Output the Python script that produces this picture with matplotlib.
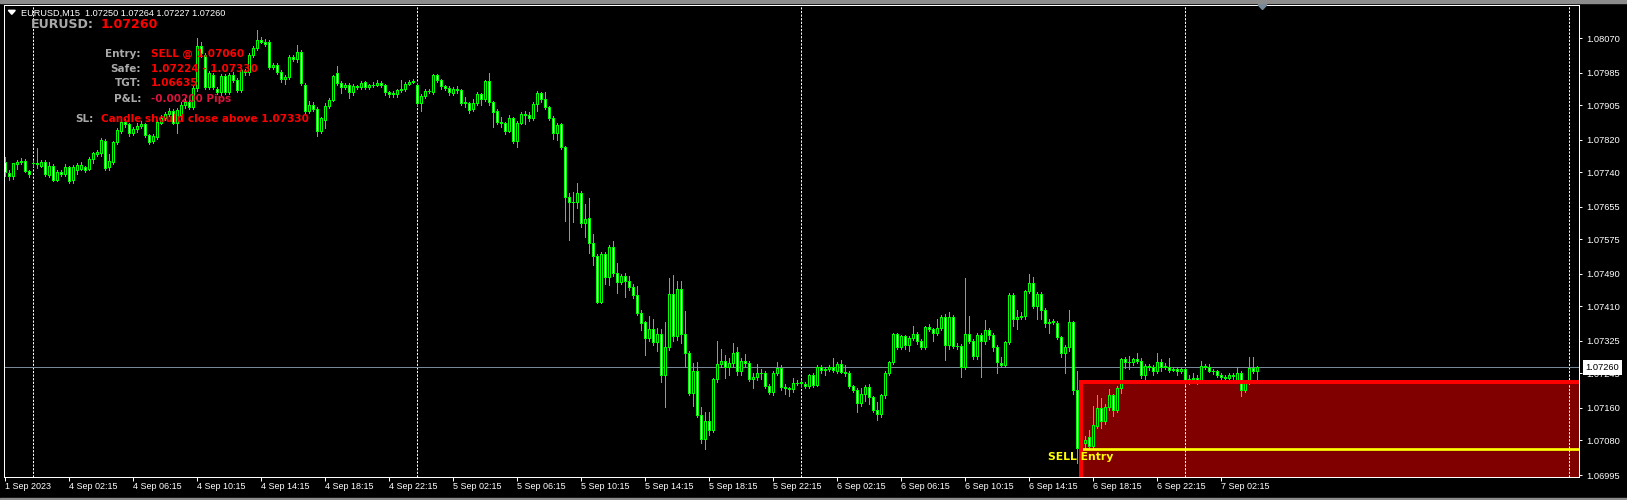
import numpy as np
import pandas as pd
import matplotlib
matplotlib.use("Agg")
import matplotlib.pyplot as plt
from matplotlib.patches import Rectangle, Polygon
from matplotlib.collections import PatchCollection, LineCollection
import matplotlib.transforms as mtransforms

plt.rcParams['font.family'] = ['Liberation Sans', 'DejaVu Sans']

W, H = 1627, 500

# ---------------- data ----------------
symbol = "EURUSD"
timeframe = "M15"
last_ohlc = [1.07250, 1.07264, 1.07227, 1.07260]
current_price = 1.07260
entry_price = 1.07060
safe_low = 1.07224
safe_high = 1.07330
target_price = 1.06635
pnl_text = "-0.00200 Pips"
sl_level = 1.07330
box_start = "2023-09-06 17:30"

times = (list(pd.date_range("2023-09-01 22:15", periods=7, freq="15min")) +
         list(pd.date_range("2023-09-04 00:00", periods=307, freq="15min")))

opens = [
    1.07765, 1.07739, 1.07732, 1.07760, 1.07765, 1.07768, 1.07744,
    1.07762, 1.07764, 1.07755, 1.07766, 1.07734, 1.07756, 1.07721, 1.07740, 1.07735, 1.07752, 1.07720, 1.07745, 1.07748, 1.07752, 1.07748, 1.07772,
    1.07785, 1.07787, 1.07818, 1.07752, 1.07765, 1.07814, 1.07842, 1.07865, 1.07858, 1.07837, 1.07846, 1.07855, 1.07858, 1.07832, 1.07818, 1.07826,
    1.07862, 1.07873, 1.07883, 1.07890, 1.07862, 1.07880, 1.07905, 1.07914, 1.07900, 1.07947, 1.08050, 1.08030, 1.07951, 1.07980, 1.07945, 1.07938,
    1.07978, 1.07938, 1.07980, 1.07968, 1.07943, 1.07990, 1.07986, 1.08030, 1.08047, 1.08066, 1.08060, 1.08060, 1.08000, 1.08005, 1.07988, 1.07970,
    1.07974, 1.08025, 1.08018, 1.08037, 1.07955, 1.07890, 1.07906, 1.07896, 1.07843, 1.07870, 1.07904, 1.07918, 1.07985, 1.07959, 1.07950, 1.07955,
    1.07939, 1.07952, 1.07950, 1.07962, 1.07949, 1.07954, 1.07956, 1.07960, 1.07955, 1.07937, 1.07933, 1.07934, 1.07942, 1.07944, 1.07958, 1.07963,
    1.07955, 1.07910, 1.07928, 1.07940, 1.07937, 1.07980, 1.07967, 1.07953, 1.07948, 1.07936, 1.07945, 1.07943, 1.07910, 1.07910, 1.07895, 1.07910,
    1.07933, 1.07920, 1.07965, 1.07912, 1.07890, 1.07865, 1.07862, 1.07843, 1.07873, 1.07818, 1.07862, 1.07884, 1.07882, 1.07873, 1.07908, 1.07935,
    1.07921, 1.07900, 1.07875, 1.07838, 1.07858, 1.07803, 1.07679, 1.07668, 1.07666, 1.07690, 1.07616, 1.07627, 1.07565, 1.07534, 1.07422, 1.07539,
    1.07483, 1.07556, 1.07492, 1.07471, 1.07485, 1.07473, 1.07459, 1.07438, 1.07395, 1.07371, 1.07332, 1.07354, 1.07323, 1.07342, 1.07241, 1.07310,
    1.07441, 1.07338, 1.07452, 1.07342, 1.07295, 1.07198, 1.07250, 1.07143, 1.07083, 1.07128, 1.07106, 1.07231, 1.07268, 1.07276, 1.07262, 1.07270,
    1.07297, 1.07250, 1.07276, 1.07270, 1.07231, 1.07236, 1.07246, 1.07247, 1.07215, 1.07199, 1.07246, 1.07258, 1.07211, 1.07208, 1.07206, 1.07221,
    1.07222, 1.07220, 1.07215, 1.07240, 1.07217, 1.07262, 1.07253, 1.07255, 1.07262, 1.07252, 1.07268, 1.07248, 1.07246, 1.07213, 1.07205, 1.07172,
    1.07195, 1.07211, 1.07187, 1.07155, 1.07145, 1.07191, 1.07246, 1.07273, 1.07342, 1.07311, 1.07337, 1.07314, 1.07332, 1.07342, 1.07326, 1.07311,
    1.07359, 1.07355, 1.07345, 1.07357, 1.07383, 1.07314, 1.07383, 1.07313, 1.07312, 1.07262, 1.07342, 1.07325, 1.07288, 1.07340, 1.07324, 1.07352,
    1.07340, 1.07309, 1.07270, 1.07266, 1.07322, 1.07438, 1.07378, 1.07383, 1.07386, 1.07447, 1.07467, 1.07410, 1.07441, 1.07400, 1.07369, 1.07371,
    1.07369, 1.07334, 1.07295, 1.07310, 1.07371, 1.07205, 1.07061, 1.07075, 1.07088, 1.07066, 1.07115, 1.07160, 1.07129, 1.07162, 1.07191, 1.07155,
    1.07209, 1.07280, 1.07272, 1.07272, 1.07280, 1.07276, 1.07240, 1.07264, 1.07262, 1.07251, 1.07273, 1.07262, 1.07262, 1.07254, 1.07257, 1.07251,
    1.07256, 1.07229, 1.07232, 1.07235, 1.07228, 1.07264, 1.07262, 1.07252, 1.07250, 1.07241, 1.07237, 1.07234, 1.07240, 1.07229, 1.07246, 1.07205,
    1.07225, 1.07258, 1.07250,
]

highs = [
    1.07779, 1.07746, 1.07764, 1.07770, 1.07776, 1.07772, 1.07747,
    1.07767, 1.07799, 1.07770, 1.07770, 1.07765, 1.07760, 1.07745, 1.07745, 1.07760, 1.07756, 1.07758, 1.07764, 1.07765, 1.07755, 1.07778, 1.07790,
    1.07795, 1.07825, 1.07822, 1.07785, 1.07816, 1.07848, 1.07870, 1.07872, 1.07862, 1.07852, 1.07862, 1.07866, 1.07862, 1.07835, 1.07834, 1.07868,
    1.07880, 1.07888, 1.07898, 1.07896, 1.07898, 1.07912, 1.07922, 1.07920, 1.07952, 1.08070, 1.08062, 1.08035, 1.07990, 1.07985, 1.07950, 1.07982,
    1.07982, 1.07984, 1.07988, 1.07972, 1.07996, 1.07995, 1.08035, 1.08050, 1.08090, 1.08072, 1.08068, 1.08065, 1.08010, 1.08010, 1.07992, 1.07980,
    1.08030, 1.08030, 1.08053, 1.08040, 1.07960, 1.07915, 1.07912, 1.07900, 1.07876, 1.07910, 1.07922, 1.07980, 1.08002, 1.07964, 1.07960, 1.07960,
    1.07957, 1.07955, 1.07964, 1.07966, 1.07958, 1.07962, 1.07968, 1.07964, 1.07958, 1.07940, 1.07940, 1.07946, 1.07968, 1.07962, 1.07968, 1.07970,
    1.07960, 1.07932, 1.07945, 1.07944, 1.07982, 1.07982, 1.07970, 1.07956, 1.07952, 1.07950, 1.07952, 1.07946, 1.07925, 1.07913, 1.07920, 1.07938,
    1.07936, 1.07968, 1.07984, 1.07915, 1.07895, 1.07876, 1.07865, 1.07880, 1.07876, 1.07866, 1.07888, 1.07892, 1.07888, 1.07912, 1.07940, 1.07938,
    1.07938, 1.07903, 1.07878, 1.07862, 1.07862, 1.07806, 1.07688, 1.07692, 1.07715, 1.07693, 1.07662, 1.07676, 1.07588, 1.07540, 1.07544, 1.07544,
    1.07560, 1.07571, 1.07516, 1.07490, 1.07492, 1.07486, 1.07464, 1.07460, 1.07402, 1.07375, 1.07387, 1.07379, 1.07356, 1.07354, 1.07372, 1.07480,
    1.07487, 1.07472, 1.07472, 1.07398, 1.07300, 1.07270, 1.07273, 1.07163, 1.07150, 1.07150, 1.07235, 1.07325, 1.07305, 1.07290, 1.07284, 1.07320,
    1.07311, 1.07283, 1.07292, 1.07276, 1.07245, 1.07268, 1.07255, 1.07250, 1.07220, 1.07252, 1.07272, 1.07265, 1.07220, 1.07212, 1.07233, 1.07228,
    1.07230, 1.07225, 1.07243, 1.07245, 1.07265, 1.07266, 1.07260, 1.07266, 1.07283, 1.07272, 1.07278, 1.07265, 1.07252, 1.07217, 1.07210, 1.07210,
    1.07216, 1.07218, 1.07190, 1.07175, 1.07195, 1.07250, 1.07276, 1.07344, 1.07344, 1.07340, 1.07340, 1.07336, 1.07362, 1.07346, 1.07330, 1.07362,
    1.07367, 1.07358, 1.07380, 1.07388, 1.07392, 1.07397, 1.07388, 1.07320, 1.07318, 1.07479, 1.07387, 1.07330, 1.07345, 1.07345, 1.07376, 1.07356,
    1.07344, 1.07314, 1.07285, 1.07326, 1.07442, 1.07442, 1.07400, 1.07396, 1.07450, 1.07490, 1.07482, 1.07446, 1.07445, 1.07405, 1.07380, 1.07380,
    1.07374, 1.07338, 1.07316, 1.07401, 1.07375, 1.07250, 1.07085, 1.07090, 1.07106, 1.07164, 1.07192, 1.07185, 1.07170, 1.07207, 1.07195, 1.07213,
    1.07284, 1.07285, 1.07288, 1.07283, 1.07295, 1.07282, 1.07268, 1.07268, 1.07266, 1.07295, 1.07280, 1.07270, 1.07282, 1.07262, 1.07262, 1.07262,
    1.07260, 1.07240, 1.07245, 1.07240, 1.07276, 1.07268, 1.07268, 1.07256, 1.07254, 1.07246, 1.07240, 1.07245, 1.07246, 1.07262, 1.07250, 1.07230,
    1.07285, 1.07285, 1.07264,
]

lows = [
    1.07730, 1.07721, 1.07723, 1.07748, 1.07760, 1.07740, 1.07728,
    1.07755, 1.07750, 1.07752, 1.07730, 1.07728, 1.07718, 1.07718, 1.07732, 1.07730, 1.07715, 1.07713, 1.07736, 1.07745, 1.07740, 1.07745, 1.07762,
    1.07780, 1.07780, 1.07745, 1.07745, 1.07760, 1.07810, 1.07838, 1.07852, 1.07830, 1.07832, 1.07840, 1.07850, 1.07828, 1.07810, 1.07812, 1.07822,
    1.07858, 1.07868, 1.07878, 1.07858, 1.07836, 1.07870, 1.07898, 1.07895, 1.07895, 1.07940, 1.08025, 1.07945, 1.07945, 1.07945, 1.07932, 1.07930,
    1.07932, 1.07932, 1.07962, 1.07938, 1.07938, 1.07980, 1.07980, 1.08025, 1.08042, 1.08058, 1.08050, 1.07995, 1.07995, 1.07982, 1.07962, 1.07958,
    1.07970, 1.08015, 1.08012, 1.07955, 1.07885, 1.07885, 1.07890, 1.07830, 1.07836, 1.07850, 1.07898, 1.07915, 1.07955, 1.07936, 1.07945, 1.07922,
    1.07930, 1.07946, 1.07945, 1.07945, 1.07944, 1.07950, 1.07952, 1.07950, 1.07930, 1.07926, 1.07925, 1.07926, 1.07938, 1.07940, 1.07954, 1.07960,
    1.07905, 1.07892, 1.07922, 1.07936, 1.07932, 1.07962, 1.07945, 1.07942, 1.07930, 1.07930, 1.07935, 1.07906, 1.07900, 1.07885, 1.07890, 1.07905,
    1.07905, 1.07915, 1.07905, 1.07852, 1.07860, 1.07852, 1.07835, 1.07840, 1.07812, 1.07803, 1.07858, 1.07860, 1.07866, 1.07868, 1.07892, 1.07912,
    1.07895, 1.07868, 1.07822, 1.07820, 1.07798, 1.07621, 1.07574, 1.07619, 1.07652, 1.07606, 1.07582, 1.07541, 1.07512, 1.07418, 1.07418, 1.07465,
    1.07463, 1.07484, 1.07442, 1.07465, 1.07434, 1.07450, 1.07430, 1.07388, 1.07352, 1.07291, 1.07326, 1.07316, 1.07300, 1.07225, 1.07162, 1.07303,
    1.07326, 1.07328, 1.07320, 1.07262, 1.07192, 1.07165, 1.07138, 1.07073, 1.07060, 1.07093, 1.07100, 1.07225, 1.07260, 1.07235, 1.07240, 1.07262,
    1.07242, 1.07240, 1.07262, 1.07226, 1.07208, 1.07229, 1.07232, 1.07210, 1.07195, 1.07192, 1.07240, 1.07205, 1.07195, 1.07190, 1.07200, 1.07216,
    1.07215, 1.07210, 1.07210, 1.07212, 1.07214, 1.07246, 1.07240, 1.07250, 1.07248, 1.07246, 1.07245, 1.07238, 1.07208, 1.07200, 1.07150, 1.07165,
    1.07178, 1.07170, 1.07150, 1.07130, 1.07139, 1.07185, 1.07240, 1.07268, 1.07305, 1.07305, 1.07305, 1.07300, 1.07328, 1.07318, 1.07305, 1.07305,
    1.07350, 1.07325, 1.07340, 1.07352, 1.07278, 1.07305, 1.07308, 1.07305, 1.07236, 1.07255, 1.07320, 1.07280, 1.07280, 1.07236, 1.07318, 1.07330,
    1.07300, 1.07245, 1.07260, 1.07260, 1.07318, 1.07362, 1.07355, 1.07378, 1.07380, 1.07442, 1.07405, 1.07380, 1.07380, 1.07360, 1.07345, 1.07366,
    1.07330, 1.07285, 1.07245, 1.07300, 1.07195, 1.07024, 1.07040, 1.07060, 1.07062, 1.07058, 1.07110, 1.07110, 1.07120, 1.07155, 1.07140, 1.07150,
    1.07196, 1.07258, 1.07255, 1.07265, 1.07270, 1.07235, 1.07230, 1.07254, 1.07240, 1.07246, 1.07252, 1.07256, 1.07248, 1.07250, 1.07242, 1.07246,
    1.07220, 1.07220, 1.07225, 1.07220, 1.07222, 1.07255, 1.07248, 1.07244, 1.07236, 1.07232, 1.07228, 1.07228, 1.07232, 1.07222, 1.07190, 1.07200,
    1.07220, 1.07245, 1.07227,
]

closes = [
    1.07740, 1.07730, 1.07762, 1.07765, 1.07768, 1.07744, 1.07735,
    1.07764, 1.07760, 1.07766, 1.07736, 1.07756, 1.07721, 1.07740, 1.07736, 1.07752, 1.07719, 1.07754, 1.07757, 1.07758, 1.07745, 1.07773, 1.07787,
    1.07789, 1.07820, 1.07750, 1.07767, 1.07814, 1.07844, 1.07865, 1.07858, 1.07836, 1.07846, 1.07855, 1.07859, 1.07832, 1.07815, 1.07830, 1.07865,
    1.07873, 1.07883, 1.07892, 1.07862, 1.07894, 1.07906, 1.07914, 1.07900, 1.07947, 1.08050, 1.08033, 1.07951, 1.07984, 1.07951, 1.07938, 1.07976,
    1.07938, 1.07980, 1.07968, 1.07943, 1.07992, 1.07986, 1.08030, 1.08047, 1.08066, 1.08062, 1.08056, 1.08000, 1.08005, 1.07988, 1.07970, 1.07974,
    1.08025, 1.08020, 1.08037, 1.07959, 1.07890, 1.07906, 1.07896, 1.07843, 1.07873, 1.07904, 1.07918, 1.07977, 1.07959, 1.07950, 1.07955, 1.07939,
    1.07953, 1.07950, 1.07960, 1.07949, 1.07954, 1.07956, 1.07960, 1.07955, 1.07937, 1.07933, 1.07936, 1.07942, 1.07946, 1.07958, 1.07963, 1.07966,
    1.07910, 1.07928, 1.07940, 1.07940, 1.07980, 1.07967, 1.07953, 1.07948, 1.07937, 1.07945, 1.07943, 1.07910, 1.07913, 1.07894, 1.07910, 1.07933,
    1.07920, 1.07965, 1.07912, 1.07888, 1.07865, 1.07862, 1.07843, 1.07873, 1.07818, 1.07862, 1.07884, 1.07882, 1.07873, 1.07908, 1.07935, 1.07921,
    1.07900, 1.07875, 1.07838, 1.07857, 1.07803, 1.07679, 1.07668, 1.07666, 1.07690, 1.07616, 1.07625, 1.07565, 1.07533, 1.07422, 1.07539, 1.07482,
    1.07556, 1.07492, 1.07471, 1.07485, 1.07473, 1.07459, 1.07437, 1.07395, 1.07369, 1.07332, 1.07354, 1.07323, 1.07342, 1.07241, 1.07310, 1.07441,
    1.07336, 1.07452, 1.07342, 1.07295, 1.07198, 1.07250, 1.07143, 1.07083, 1.07128, 1.07106, 1.07231, 1.07268, 1.07276, 1.07262, 1.07270, 1.07295,
    1.07250, 1.07276, 1.07270, 1.07231, 1.07236, 1.07246, 1.07247, 1.07215, 1.07199, 1.07246, 1.07258, 1.07211, 1.07208, 1.07206, 1.07221, 1.07222,
    1.07225, 1.07215, 1.07240, 1.07217, 1.07262, 1.07253, 1.07255, 1.07262, 1.07253, 1.07268, 1.07248, 1.07246, 1.07213, 1.07205, 1.07172, 1.07195,
    1.07211, 1.07187, 1.07155, 1.07145, 1.07191, 1.07246, 1.07273, 1.07342, 1.07311, 1.07337, 1.07314, 1.07332, 1.07342, 1.07326, 1.07311, 1.07359,
    1.07355, 1.07345, 1.07357, 1.07383, 1.07314, 1.07383, 1.07313, 1.07312, 1.07262, 1.07342, 1.07325, 1.07288, 1.07340, 1.07324, 1.07352, 1.07340,
    1.07309, 1.07272, 1.07266, 1.07322, 1.07438, 1.07378, 1.07383, 1.07387, 1.07447, 1.07467, 1.07410, 1.07441, 1.07400, 1.07369, 1.07371, 1.07374,
    1.07334, 1.07295, 1.07310, 1.07371, 1.07205, 1.07061, 1.07075, 1.07082, 1.07066, 1.07118, 1.07160, 1.07129, 1.07162, 1.07191, 1.07155, 1.07209,
    1.07280, 1.07272, 1.07273, 1.07280, 1.07276, 1.07240, 1.07264, 1.07262, 1.07251, 1.07273, 1.07262, 1.07264, 1.07254, 1.07257, 1.07251, 1.07256,
    1.07229, 1.07232, 1.07235, 1.07228, 1.07264, 1.07262, 1.07252, 1.07250, 1.07241, 1.07237, 1.07234, 1.07240, 1.07238, 1.07246, 1.07205, 1.07225,
    1.07258, 1.07250, 1.07260,
]

y_ticks = [1.08070, 1.07985, 1.07905, 1.07820, 1.07740, 1.07655, 1.07575,
           1.07490, 1.07410, 1.07325, 1.07245, 1.07160, 1.07080, 1.06995]

lens = {len(times), len(opens), len(highs), len(lows), len(closes)}
if len(lens) != 1:
    raise ValueError(f"length mismatch: {len(times)} {len(opens)} {len(highs)} {len(lows)} {len(closes)}")

# ---------------- figure ----------------
fig = plt.figure(figsize=(W / 100, H / 100), dpi=100, facecolor='black')
ax_l, ax_r, ax_t, ax_b = 3.5, 1579.0, 4.7, 477.0
ax = fig.add_axes([ax_l / W, 1 - ax_b / H, (ax_r - ax_l) / W, (ax_b - ax_t) / H])
ax.set_facecolor('black')

o = np.array(opens); h = np.array(highs); l = np.array(lows); c = np.array(closes)
x = np.arange(len(c))

ax.set_xlim(-0.425, 393.45)
ax.set_ylim(1.069901, 1.081527)

PX = 0.72  # one pixel in points

# box fill (background)
t_index = pd.DatetimeIndex(times)
box_x = int(np.where(t_index == pd.Timestamp(box_start))[0][0])
ax.add_patch(Rectangle((box_x, safe_low - 1.0), 1000, 1.0, facecolor='#800000',
                       edgecolor='none', zorder=0.5))

# period separators (midnights)
day_starts = [i for i, t in enumerate(times) if t.hour == 0 and t.minute == 0]
seps = day_starts + [day_starts[-1] + 96]
for s in seps:
    ax.axvline(s, color='white', lw=PX, dashes=(3 * PX, 2 * PX), zorder=1)

# bid line
ax.axhline(current_price, color='#778899', lw=PX, zorder=1.5)

# candles
segs = [[(xi, lo), (xi, hi)] for xi, lo, hi in
        zip(x, np.minimum(l, np.minimum(o, c)), np.maximum(h, np.maximum(o, c)))]
ax.add_collection(LineCollection(segs, colors='#00FF00', linewidths=PX, zorder=2,
                                 antialiaseds=False))
rects, fcs = [], []
for xi, oi, ci in zip(x, o, c):
    lo, hi = min(oi, ci), max(oi, ci)
    rects.append(Rectangle((xi - 0.25, lo), 0.5, hi - lo))
    fcs.append('white' if ci < oi else 'black')
pc = PatchCollection(rects, facecolors=fcs, edgecolors='#00FF00', linewidths=PX,
                     zorder=2.1, antialiaseds=False)
ax.add_collection(pc)

# entry line and box border
ax.plot([box_x, box_x + 1000], [entry_price, entry_price], color='#FFFF00', lw=2.7 * PX,
        zorder=3, solid_capstyle='butt')
ax.add_patch(Rectangle((box_x, safe_low - 1.0), 1000, 1.0, facecolor='none',
                       edgecolor='#FF0000', lw=4 * PX, zorder=4))

# axes styling
for sp in ax.spines.values():
    sp.set_color('white'); sp.set_linewidth(PX); sp.set_zorder(5)

ax.yaxis.tick_right()
ax.set_yticks(y_ticks)
ax.set_yticklabels([f"{v:.5f}" for v in y_ticks])
ax.tick_params(axis='y', direction='out', length=2.2, width=PX, colors='white',
               pad=2.7, labelsize=6.7)

tick_pos, tick_lab = [0], ["1 Sep 2023"]
for i, t in enumerate(times):
    if t.minute == 15 and t.hour % 4 == 2 and t >= pd.Timestamp("2023-09-04"):
        tick_pos.append(i)
        tick_lab.append(f"{t.day} {t:%b} {t:%H:%M}")
ax.set_xticks(tick_pos)
ax.set_xticklabels(tick_lab)
for lab in ax.get_xticklabels():
    lab.set_horizontalalignment('left')
ax.tick_params(axis='x', direction='out', length=2.9, width=PX, colors='white',
               pad=0.5, labelsize=6.5)

# current price box on axis
trans = mtransforms.offset_copy(mtransforms.blended_transform_factory(ax.transAxes, ax.transData),
                                fig=fig, x=6.7 * PX, y=0, units='points')
ax.text(1.0, current_price, f"{current_price:.5f}", transform=trans, ha='left', va='center',
        fontsize=6.7, color='black', clip_on=False, zorder=10,
        bbox=dict(boxstyle='square,pad=0.3', fc='white', ec='none'))

# ---------------- overlay texts ----------------
def fx(px):
    return px / W

def fy(py):
    return 1 - py / H

# header
fig.add_artist(Polygon([(fx(8.3), fy(10.3)), (fx(15.3), fy(10.3)), (fx(11.8), fy(14.3))],
                       closed=True, transform=fig.transFigure, color='white'))
fig.text(fx(20.7), fy(15.8),
         f"{symbol},{timeframe}  " + " ".join(f"{v:.5f}" for v in last_ohlc),
         color='white', fontsize=6.6, ha='left', va='baseline')

gray = '#A9A9A9'
bold = dict(family=['DejaVu Sans'], weight='bold')
fig.text(fx(30.7), fy(28.4), f"{symbol}:", color=gray, fontsize=9.1, ha='left', va='baseline', **bold)
fig.text(fx(101.0), fy(28.4), f"{current_price:.5f}", color='#FF0000', fontsize=9.1,
         ha='left', va='baseline', **bold)

rows = [
    ("Entry:", f"SELL @ {entry_price:.5f}", '#FF0000', 56.7),
    ("Safe:", f"{safe_low:.5f} - {safe_high:.5f}", '#FF0000', 71.7),
    ("TGT:", f"{target_price:.5f}", '#FF0000', 86.3),
    ("P&L:", pnl_text, '#DC143C', 102.0),
]
for lab, val, col, yb in rows:
    fig.text(fx(141.0), fy(yb), lab, color=gray, fontsize=7.5, ha='right', va='baseline', zorder=6, **bold)
    fig.text(fx(150.7), fy(yb), val, color=col, fontsize=7.5, ha='left', va='baseline', zorder=6, **bold)
fig.text(fx(94.0), fy(122.0), "SL:", color=gray, fontsize=7.5, ha='right', va='baseline', zorder=6, **bold)
fig.text(fx(101.0), fy(122.0), f"Candle should close above {sl_level:.5f}", color='#FF0000',
         fontsize=7.5, ha='left', va='baseline', zorder=6, **bold)

fig.text(fx(1048.3), fy(460.0), "SELL Entry", color='#FFFF00', fontsize=7.85,
         ha='left', va='baseline', zorder=6, **bold)

# chart shift marker and window frame
fig.add_artist(Polygon([(fx(1258), fy(4.7)), (fx(1267), fy(4.7)), (fx(1262.5), fy(9.5))],
                       closed=True, transform=fig.transFigure, color='#778899', zorder=6))
fig.add_artist(Rectangle((0, fy(2.7)), 1, 2.7 / H, transform=fig.transFigure,
                         color='#8c8c8c', zorder=7))
fig.add_artist(Rectangle((0, 0), 1, 1.8 / H, transform=fig.transFigure,
                         color='#8c8c8c', zorder=7))

fig.savefig("out.png", dpi=100, facecolor='black')
